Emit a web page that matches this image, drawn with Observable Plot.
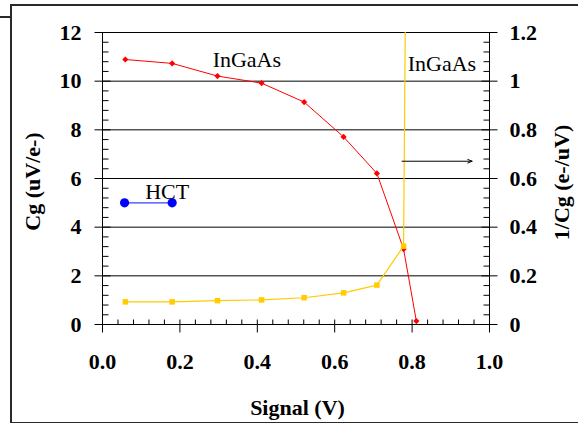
<!DOCTYPE html>
<html><head><meta charset="utf-8">
<script src="https://cdn.jsdelivr.net/npm/d3@7"></script>
<script src="https://cdn.jsdelivr.net/npm/@observablehq/plot@0.6"></script>
<style>
body{margin:0;background:#fff;}
#wrap{position:relative;width:578px;height:424px;overflow:hidden;background:#fff;}
#wrap svg{position:absolute;left:0;top:0;}
.bx{position:absolute;background:#2a2a2a;}
</style></head><body>
<div id="wrap"></div>
<script>
// InGaAs measurements
const signal = [0.059, 0.18, 0.297, 0.411, 0.521, 0.623, 0.709, 0.778, 0.811];
const cg     = [10.89, 10.73, 10.21, 9.92, 9.14, 7.71, 6.21, 3.10, 0.14];
const invCg  = [0.093, 0.093, 0.098, 0.101, 0.110, 0.130, 0.162, 0.322, 7.14];
// HCT
const hctSignal = [0.057, 0.18];
const hctCg     = [5.0, 5.0];
// ticks
const xTicks = [0, 0.2, 0.4, 0.6, 0.8, 1.0];
const xTickLabels = ["0.0", "0.2", "0.4", "0.6", "0.8", "1.0"];
const yLeftTicks = [0, 2, 4, 6, 8, 10, 12];
const yRightTicks = [0, 0.2, 0.4, 0.6, 0.8, 1, 1.2];
const yRightLabels = ["0", "0.2", "0.4", "0.6", "0.8", "1", "1.2"];
// annotations
const noteText = ["InGaAs", "InGaAs", "HCT"];
const noteX = [0.373, 0.877, 0.167];
const noteY = [10.86, 10.72, 5.43];
const arrowX = [0.774, 0.955];
const arrowY = [6.71, 6.71];

const RATIO = 10; // left axis units per right axis unit

const ingaas = signal.map((s, i) => ({signal: s, cg: cg[i], inv: invCg[i]}));
const hct = hctSignal.map((s, i) => ({signal: s, cg: hctCg[i]}));
const notes = noteText.map((t, i) => ({t, x: noteX[i], y: noteY[i]}));
const arrows = [{x1: arrowX[0], y1: arrowY[0], x2: arrowX[1], y2: arrowY[1]}];

const rightPos = yRightTicks.map(v => Math.round(v * RATIO * 1000) / 1000);
const xMinor = d3.range(0, 1.0001, 0.04).map(v => Math.round(v * 1000) / 1000).filter(v => !xTicks.some(t => Math.abs(t - v) < 1e-6));
const yMinor = d3.range(0, 12.0001, 0.4).map(v => Math.round(v * 1000) / 1000).filter(v => !yLeftTicks.some(t => Math.abs(t - v) < 1e-6));

const F = "'Liberation Serif', 'Times New Roman', serif";

// tick glyphs as custom symbols
const hTick = (a, b) => ({draw(ctx) { ctx.moveTo(a, 0); ctx.lineTo(b, 0); }});
const vTick = (a, b) => ({draw(ctx) { ctx.moveTo(0, a); ctx.lineTo(0, b); }});
const tickStyle = {fill: "none", stroke: "#000", strokeWidth: 1};

const chart = Plot.plot({
  width: 578, height: 424,
  marginLeft: 102, marginRight: 89, marginTop: 32, marginBottom: 100,
  x: {domain: [0, 1]},
  y: {domain: [0, 12]},
  style: {fontFamily: F, background: "transparent", color: "#000"},
  marks: [
    Plot.ruleY(yLeftTicks.filter(d => d > 0), {stroke: "#000", strokeWidth: 1}),
    Plot.ruleY([0], {stroke: "#000", strokeWidth: 1}),
    Plot.ruleX([0, 1], {stroke: "#000", strokeWidth: 1}),
    // left axis
    Plot.dot(yLeftTicks, {y: d => d, frameAnchor: "left", symbol: hTick(-8, 8), ...tickStyle}),
    Plot.dot(yMinor, {y: d => d, frameAnchor: "left", symbol: hTick(0, 6), ...tickStyle}),
    Plot.axisY(yLeftTicks, {anchor: "left", tickSize: 0, tickPadding: 21, fontSize: 22, fontWeight: "bold", tickFormat: d => String(d), label: null}),
    // right axis
    Plot.dot(rightPos, {y: d => d, frameAnchor: "right", symbol: hTick(-8, 8), ...tickStyle}),
    Plot.dot(yMinor, {y: d => d, frameAnchor: "right", symbol: hTick(-6, 0), ...tickStyle}),
    Plot.axisY(rightPos, {anchor: "right", tickSize: 0, tickPadding: 20, fontSize: 22, fontWeight: "bold", tickFormat: d => yRightLabels[rightPos.indexOf(d)], label: null}),
    // x axis
    Plot.dot(xTicks, {x: d => d, frameAnchor: "bottom", symbol: vTick(-5, 8), ...tickStyle}),
    Plot.dot(xMinor, {x: d => d, frameAnchor: "bottom", symbol: vTick(-5, 0), ...tickStyle}),
    Plot.axisX(xTicks, {anchor: "bottom", tickSize: 0, tickPadding: 29, fontSize: 22, fontWeight: "bold", tickFormat: d => xTickLabels[xTicks.indexOf(d)], label: null}),
    // axis titles
    Plot.text(["Cg (uV/e-)"], {frameAnchor: "left", dx: -70, dy: 3, rotate: -90, textAnchor: "middle", lineAnchor: "middle", fontSize: 22, fontWeight: "bold"}),
    Plot.text(["1/Cg (e-/uV)"], {frameAnchor: "right", dx: 72, dy: 4, rotate: -90, textAnchor: "middle", lineAnchor: "middle", fontSize: 22, fontWeight: "bold"}),
    Plot.text(["Signal (V)"], {frameAnchor: "bottom", dx: 1.5, dy: 83, textAnchor: "middle", lineAnchor: "middle", fontSize: 22, fontWeight: "bold"}),
    // data
    Plot.line(ingaas, {x: "signal", y: "cg", stroke: "#ff0000", strokeWidth: 1}),
    Plot.dot(ingaas, {x: "signal", y: "cg", symbol: "diamond2", r: 2.8, fill: "#ff0000", stroke: "none"}),
    Plot.line(ingaas, {x: "signal", y: d => d.inv * RATIO, stroke: "#ffcc00", strokeWidth: 1.2, clip: true}),
    Plot.dot(ingaas, {x: "signal", y: d => d.inv * RATIO, symbol: "square", r: 3.1, fill: "#ffcc00", stroke: "none", clip: true}),
    Plot.line(hct, {x: "signal", y: "cg", stroke: "#3d3dff", strokeWidth: 1.2}),
    Plot.dot(hct, {x: "signal", y: "cg", r: 4.6, fill: "#0000ff", stroke: "none"}),
    // annotations
    Plot.text(notes, {x: "x", y: "y", text: "t", fontSize: 22, textAnchor: "middle", lineAnchor: "middle", fill: "#000"}),
    Plot.arrow(arrows, {x1: "x1", y1: "y1", x2: "x2", y2: "y2", stroke: "#000", strokeWidth: 1, headLength: 7, headAngle: 45})
  ]
});

const wrap = document.getElementById("wrap");
wrap.appendChild(chart);
function box(l, t, w, h) {
  const d = document.createElement("div");
  d.className = "bx";
  Object.assign(d.style, {left: l + "px", top: t + "px", width: w + "px", height: h + "px"});
  wrap.appendChild(d);
}
box(10, 4, 1.5, 419);     // left border
box(10, 4, 568, 1.5);     // top border
box(10, 421.5, 568, 1.5); // bottom border
box(0, 16, 11, 1.5);      // short line top-left
</script>
</body></html>
